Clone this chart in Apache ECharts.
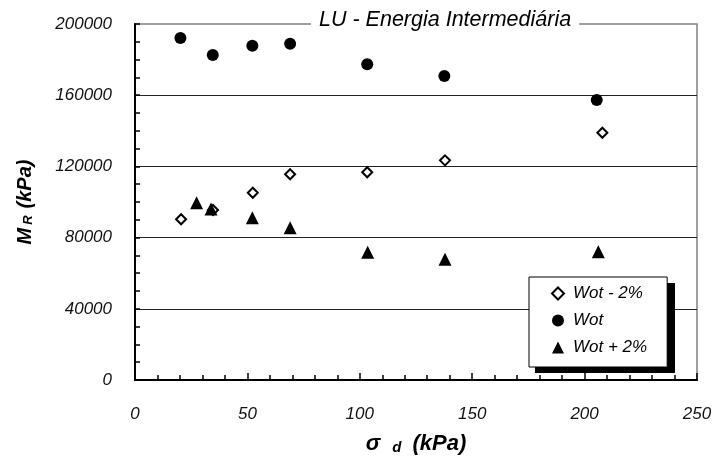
<!DOCTYPE html>
<html>
<head>
<meta charset="utf-8">
<script src="https://cdn.jsdelivr.net/npm/echarts@6/dist/echarts.min.js"></script>
<style>html,body{margin:0;padding:0;background:#fff}#c{width:715px;height:464px}</style>
</head>
<body>
<div id="c"></div>
<script>
var titleText = 'LU - Energia Intermediária';
var seriesNames = ['Wot - 2%', 'Wot', 'Wot + 2%'];
var xTicks = { min: 0, max: 250, interval: 50 };
var yTicks = { min: 0, max: 200000, interval: 40000 };

var wotMinus2 = [[20.5, 90300], [34.7, 95500], [52.4, 105200], [69.0, 115600], [103.3, 116700], [137.9, 123400], [207.9, 138900]];
var wot = [[20.2, 192100], [34.6, 182600], [52.2, 187800], [69.0, 188900], [103.3, 177400], [137.6, 170800], [205.4, 157300]];
var wotPlus2 = [[27.4, 99600], [33.8, 96100], [52.2, 91200], [69.0, 85600], [103.5, 71700], [137.9, 67800], [206.1, 72100]];

var FONT = 'Liberation Sans, Arial, sans-serif';
var chart = echarts.init(document.getElementById('c'), null, { renderer: 'canvas' });
chart.setOption({
  animation: false,
  backgroundColor: '#fff',
  title: {
    text: titleText,
    left: 311,
    top: 8,
    padding: [1, 8, 1, 8],
    backgroundColor: '#fff',
    textStyle: { fontFamily: FONT, fontStyle: 'italic', fontWeight: 'normal', fontSize: 21.5, color: '#000' }
  },
  grid: {
    left: 135, right: 18, top: 24, bottom: 84,
    show: true, borderColor: '#808080', borderWidth: 1.5, backgroundColor: 'transparent'
  },
  graphic: [
    { type: 'rect', left: 535, top: 283, z: 1, shape: { width: 140, height: 90 }, style: { fill: '#000' }, silent: true }
  ],
  legend: {
    orient: 'vertical',
    left: 529, top: 277,
    width: 140, height: 90,
    padding: [8, 20, 11, 22],
    itemGap: 10,
    itemWidth: 12, itemHeight: 12,
    backgroundColor: '#fff',
    borderColor: '#000', borderWidth: 1,
    textStyle: { fontFamily: FONT, fontStyle: 'italic', fontSize: 17, color: '#000', padding: [0, 0, 0, 4] },
    data: seriesNames
  },
  xAxis: {
    type: 'value',
    min: xTicks.min, max: xTicks.max, interval: xTicks.interval,
    axisLine: { show: true, onZero: false, lineStyle: { color: '#000', width: 2 } },
    axisTick: { show: true, inside: true, length: 7, lineStyle: { color: '#000', width: 1.5 } },
    minorTick: { show: true, splitNumber: 5, length: 5, lineStyle: { color: '#000', width: 1.5 } },
    splitLine: { show: false },
    axisLabel: { margin: 26, fontFamily: FONT, fontStyle: 'italic', fontSize: 17, color: '#111' },
    name: '{a|σ}{s|d}{a|(kPa)}',
    nameLocation: 'middle',
    nameGap: 52,
    nameTextStyle: {
      rich: {
        a: { fontFamily: FONT, fontStyle: 'italic', fontWeight: 'bold', fontSize: 22, color: '#000' },
        s: { fontFamily: FONT, fontStyle: 'italic', fontWeight: 'bold', fontSize: 15, color: '#000', padding: [8, 11, 0, 12] }
      }
    }
  },
  yAxis: {
    type: 'value',
    min: yTicks.min, max: yTicks.max, interval: yTicks.interval,
    axisLine: { show: true, onZero: false, lineStyle: { color: '#000', width: 2 } },
    axisTick: { show: true, inside: true, length: 5, lineStyle: { color: '#000', width: 1.5 } },
    minorTick: { show: true, splitNumber: 4, length: 5, lineStyle: { color: '#000', width: 1.5 } },
    splitLine: { show: true, showMinLine: false, showMaxLine: false, lineStyle: { color: '#222', width: 1 } },
    axisLabel: {
      margin: 23, fontFamily: FONT, fontStyle: 'italic', fontSize: 17, color: '#111',
      formatter: function (v) { return String(v); }
    },
    name: '{a|M}{s|R}{a|(kPa)}',
    nameLocation: 'middle',
    nameGap: 100,
    nameTextStyle: {
      rich: {
        a: { fontFamily: FONT, fontStyle: 'italic', fontWeight: 'bold', fontSize: 20, color: '#000' },
        s: { fontFamily: FONT, fontStyle: 'italic', fontWeight: 'bold', fontSize: 13, color: '#000', padding: [7, 7, 0, 3] }
      }
    }
  },
  series: [
    {
      name: seriesNames[0], type: 'scatter', data: wotMinus2,
      symbol: 'diamond', symbolSize: 10,
      itemStyle: { color: '#fff', borderColor: '#000', borderWidth: 2, opacity: 1 }
    },
    {
      name: seriesNames[1], type: 'scatter', data: wot,
      symbol: 'circle', symbolSize: 12,
      itemStyle: { color: '#000', opacity: 1 }
    },
    {
      name: seriesNames[2], type: 'scatter', data: wotPlus2,
      symbol: 'triangle', symbolSize: 13,
      itemStyle: { color: '#000', opacity: 1 }
    }
  ]
});
</script>
</body>
</html>
